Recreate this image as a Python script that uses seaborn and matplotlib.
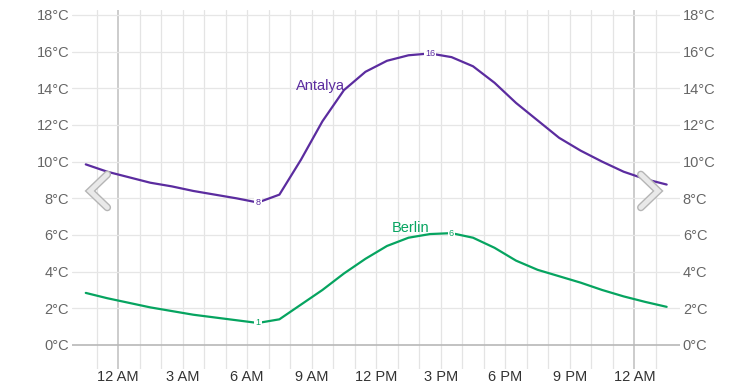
import matplotlib
matplotlib.use("Agg")
import matplotlib.pyplot as plt
import numpy as np
import pandas as pd
import seaborn as sns

# hours relative to midnight of the first day (data sits on the half hour)
hours = [h + 0.5 for h in range(-2, 26)]

antalya = [9.85, 9.45, 9.15, 8.85, 8.65, 8.4, 8.2, 8.0, 7.77, 8.2,
           10.1, 12.2, 13.9, 14.9, 15.5, 15.8, 15.9, 15.7, 15.2, 14.3,
           13.2, 12.25, 11.3, 10.6, 10.0, 9.45, 9.05, 8.75]
berlin = [2.84, 2.55, 2.3, 2.05, 1.85, 1.65, 1.5, 1.35, 1.2, 1.4,
          2.2, 3.0, 3.9, 4.7, 5.4, 5.85, 6.05, 6.1, 5.85, 5.3,
          4.6, 4.1, 3.75, 3.4, 3.0, 2.65, 2.35, 2.08]

x_ticks = [0, 3, 6, 9, 12, 15, 18, 21, 24]
x_labels = ["12 AM", "3 AM", "6 AM", "9 AM", "12 PM", "3 PM", "6 PM", "9 PM", "12 AM"]
y_ticks = list(range(0, 19, 2))
y_labels = [f"{t}°C" for t in y_ticks]

colors = {"Antalya": "#5b2c9f", "Berlin": "#06a460"}


def main():
    sns.set_style("white")
    plt.rcParams["font.family"] = ["Liberation Sans", "DejaVu Sans"]

    df = pd.concat([
        pd.DataFrame({"hour": hours, "temp": antalya, "city": "Antalya"}),
        pd.DataFrame({"hour": hours, "temp": berlin, "city": "Berlin"}),
    ])

    fig = plt.figure(figsize=(7.53, 3.87), dpi=100)
    ax = fig.add_axes([72 / 753, 1 - 369 / 387, 608 / 753, 359 / 387])

    sns.lineplot(data=df, x="hour", y="temp", hue="city", palette=colors,
                 linewidth=1.6, legend=False, ax=ax, zorder=3)

    ax.set_xlim(-2.14, 26.12)
    ax.set_ylim(-1.31, 18.27)

    # grid
    for h in range(-1, 26):
        dark = h in (0, 24)
        ax.axvline(h, color="#c8c8c8" if dark else "#e4e4e4",
                   lw=1.3 if dark else 0.9, zorder=1)
    for t in y_ticks:
        ax.axhline(t, color="#b8b8b8" if t == 0 else "#e6e6e6",
                   lw=1.2 if t == 0 else 0.9, zorder=1)

    ax.set_xticks(x_ticks)
    ax.set_xticklabels(x_labels)
    ax.set_yticks(y_ticks)
    ax.set_yticklabels(y_labels)
    ax.tick_params(axis="x", length=0, pad=1, labelsize=10.5, labelcolor="#333333")
    ax.tick_params(axis="y", length=0, pad=2, labelsize=10.5, labelcolor="#666666",
                   labelleft=True, labelright=True)
    ax.set_xlabel("")
    ax.set_ylabel("")
    for s in ax.spines.values():
        s.set_visible(False)

    # min / max markers
    for name, vals in (("Antalya", antalya), ("Berlin", berlin)):
        v = np.array(vals)
        for i in (int(v.argmin()), int(v.argmax())):
            ax.text(hours[i], v[i], f"{round(v[i])}", color=colors[name],
                    fontsize=6.5, ha="center", va="center", zorder=4,
                    bbox=dict(boxstyle="square,pad=0.15", fc="white", ec="none"))

    ax.text(9.4, 14.15, "Antalya", color=colors["Antalya"], fontsize=10.5,
            ha="center", va="center", zorder=4)
    ax.text(13.6, 6.4, "Berlin", color=colors["Berlin"], fontsize=10.5,
            ha="center", va="center", zorder=4)

    # navigation chevrons
    for xs, ys in (([-0.5, -1.3, -0.5], [9.3, 8.4, 7.5]),
                   ([24.3, 25.1, 24.3], [9.3, 8.4, 7.5])):
        ax.plot(xs, ys, color="#b5b5b5", lw=5.5, solid_capstyle="round",
                solid_joinstyle="miter", zorder=5)
        ax.plot(xs, ys, color="#e9e9e9", lw=3.5, solid_capstyle="round",
                solid_joinstyle="miter", zorder=6)

    fig.savefig("out.png", dpi=100)


if __name__ == "__main__":
    main()
